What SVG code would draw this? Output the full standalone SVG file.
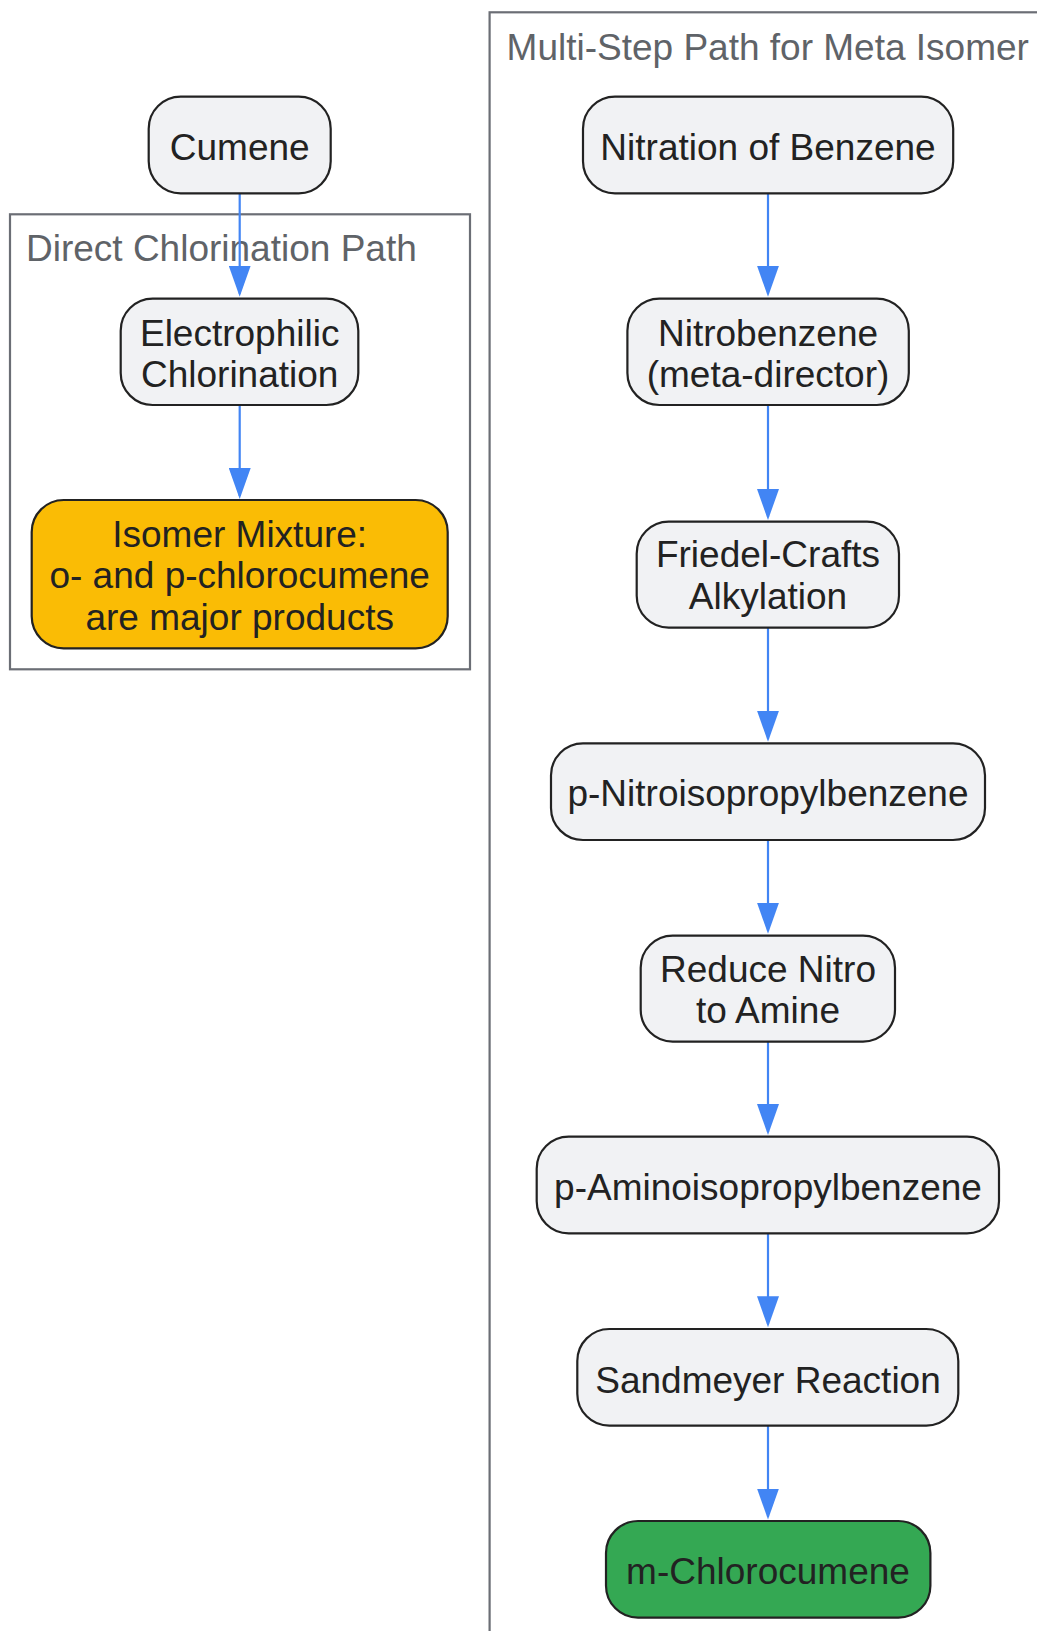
<svg xmlns="http://www.w3.org/2000/svg" width="1037" height="1631" viewBox="0 0 1037 1631">
<defs>
<style>
.cluster{fill:#ffffff;stroke:#6b6e75;stroke-width:2.2}
.ctitle{font-family:"Liberation Sans",Arial,sans-serif;font-size:37px;fill:#5f6368}
.node rect{stroke:#222222;stroke-width:2.2}
.plain rect{fill:#f1f2f4}
.warn rect{fill:#fabc05}
.good rect{fill:#34a853}
.node text{font-family:"Liberation Sans",Arial,sans-serif;font-size:37px;fill:#222222;text-anchor:middle}
.edge{fill:none;stroke:#4285f4;stroke-width:2.2}
</style>
<marker id="arrow" viewBox="0 0 31 22" refX="28" refY="11" markerWidth="31" markerHeight="22" markerUnits="userSpaceOnUse" orient="auto">
<path d="M0,0 L31,11 L0,22 z" fill="#4285f4"/>
</marker>
</defs>
<rect width="1037" height="1631" fill="#ffffff"/>
<g id="cluster-meta">
<rect class="cluster" x="489.6" y="12.3" width="700" height="1800"/>
<text class="ctitle" x="506.6" y="60">Multi-Step Path for Meta Isomer</text>
</g>
<g id="cluster-direct">
<rect class="cluster" x="10" y="214.3" width="460" height="455"/>
<text class="ctitle" x="26" y="261">Direct Chlorination Path</text>
</g>
<g id="edges">
<path class="edge" d="M239.7,193.3 V293.7" marker-end="url(#arrow)"/>
<path class="edge" d="M239.7,405 V496" marker-end="url(#arrow)"/>
<path class="edge" d="M768,193.3 V293.7" marker-end="url(#arrow)"/>
<path class="edge" d="M768,405 V517" marker-end="url(#arrow)"/>
<path class="edge" d="M768,627.7 V738.7" marker-end="url(#arrow)"/>
<path class="edge" d="M768,840 V930.7" marker-end="url(#arrow)"/>
<path class="edge" d="M768,1041.7 V1132" marker-end="url(#arrow)"/>
<path class="edge" d="M768,1233.3 V1324.3" marker-end="url(#arrow)"/>
<path class="edge" d="M768,1425.7 V1516.5" marker-end="url(#arrow)"/>
</g>
<g id="cumene" class="node plain">
<rect x="148.7" y="96.7" width="182" height="96.6" rx="32"/>
<text x="239.7" y="160">Cumene</text>
</g>
<g id="electrophilic-chlorination" class="node plain">
<rect x="120.7" y="298.7" width="237.6" height="106.3" rx="32"/>
<text x="239.7" y="345.7">Electrophilic</text>
<text x="239.7" y="387.3">Chlorination</text>
</g>
<g id="isomer-mixture" class="node warn">
<rect x="31.7" y="500" width="416" height="148.3" rx="32"/>
<text x="239.7" y="546.7">Isomer Mixture:</text>
<text x="239.7" y="588.3">o- and p-chlorocumene</text>
<text x="239.7" y="630">are major products</text>
</g>
<g id="nitration" class="node plain">
<rect x="583" y="96.7" width="370.2" height="96.6" rx="32"/>
<text x="768" y="160">Nitration of Benzene</text>
</g>
<g id="nitrobenzene" class="node plain">
<rect x="627.4" y="298.7" width="281.4" height="106.3" rx="32"/>
<text x="768" y="345.7">Nitrobenzene</text>
<text x="768" y="387.3">(meta-director)</text>
</g>
<g id="friedel-crafts" class="node plain">
<rect x="636.7" y="521.7" width="262.3" height="106" rx="32"/>
<text x="768" y="567.3">Friedel-Crafts</text>
<text x="768" y="609.3">Alkylation</text>
</g>
<g id="p-nitro" class="node plain">
<rect x="551" y="743.3" width="434" height="96.7" rx="32"/>
<text x="768" y="806">p-Nitroisopropylbenzene</text>
</g>
<g id="reduce" class="node plain">
<rect x="640.7" y="935.7" width="254.3" height="106" rx="32"/>
<text x="768" y="981.7">Reduce Nitro</text>
<text x="768" y="1023.3">to Amine</text>
</g>
<g id="p-amino" class="node plain">
<rect x="536.7" y="1136.7" width="462.3" height="96.6" rx="32"/>
<text x="768" y="1200">p-Aminoisopropylbenzene</text>
</g>
<g id="sandmeyer" class="node plain">
<rect x="577.3" y="1329" width="381" height="96.7" rx="32"/>
<text x="768" y="1392.7">Sandmeyer Reaction</text>
</g>
<g id="m-chlorocumene" class="node good">
<rect x="606" y="1521" width="324.4" height="96.7" rx="32"/>
<text x="768" y="1584">m-Chlorocumene</text>
</g>
</svg>
